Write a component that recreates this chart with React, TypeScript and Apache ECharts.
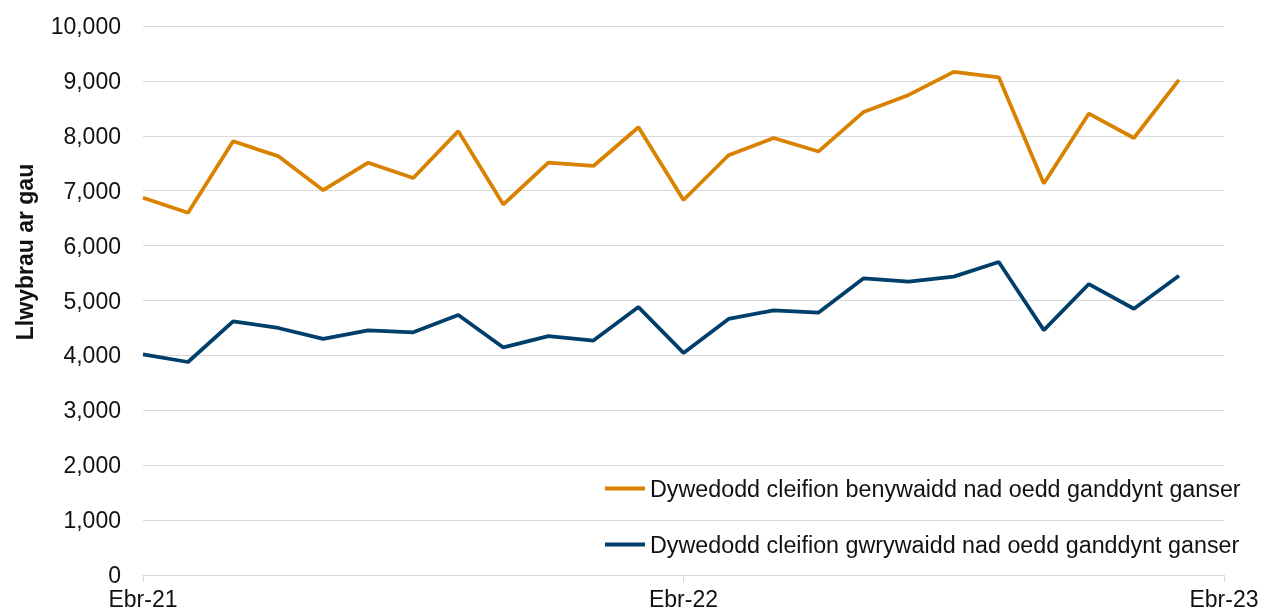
import React, { useEffect, useRef } from "react";
import * as echarts from "echarts";

const months = ["Ebr", "Mai", "Meh", "Gor", "Awst", "Medi", "Hyd", "Tach", "Rhag", "Ion", "Chwef", "Maw"];
const categories: string[] = [];
for (let i = 0; i < 25; i++) {
  const m = months[i % 12];
  const yr = 21 + Math.floor((i + 3) / 12);
  categories.push(`${m}-${yr}`);
}

const femaleName = "Dywedodd cleifion benywaidd nad oedd ganddynt ganser";
const maleName = "Dywedodd cleifion gwrywaidd nad oedd ganddynt ganser";

const femaleValues = [6870, 6600, 7900, 7630, 7010, 7510, 7230, 8085, 6750, 7510, 7450, 8155, 6830, 7645, 7960, 7715, 8435, 8745, 9165, 9065, 7130, 8405, 7960, 9020, null];
const maleValues = [4020, 3880, 4620, 4500, 4300, 4455, 4420, 4735, 4145, 4350, 4270, 4880, 4045, 4665, 4820, 4780, 5405, 5345, 5435, 5700, 4460, 5300, 4850, 5450, null];

const yAxisTitle = "Llwybrau ar gau";

const FONT = "Liberation Sans, Arial, sans-serif";
const ORANGE = "#d98200";
const BLUE = "#003e6c";

export default function App() {
  const ref = useRef<HTMLDivElement>(null);
  useEffect(() => {
    if (!ref.current) return;
    const chart = echarts.init(ref.current, undefined, { renderer: "svg" });
    chart.setOption({
      animation: false,
      textStyle: { fontFamily: FONT },
      grid: { left: 143, right: 41, top: 26, bottom: 35, containLabel: false },
      legend: {
        orient: "vertical",
        left: 605,
        top: 477,
        padding: 0,
        itemGap: 33,
        itemWidth: 40,
        itemHeight: 4,
        icon: "rect",
        textStyle: { fontSize: 23.3, color: "#111", fontFamily: FONT },
        data: [femaleName, maleName],
      },
      graphic: [
        {
          type: "text",
          x: 25,
          y: 252,
          rotation: Math.PI / 2,
          style: {
            text: yAxisTitle,
            fontSize: 23,
            fontWeight: "bold",
            fontFamily: FONT,
            fill: "#111",
            align: "center",
            verticalAlign: "middle",
          },
        },
      ],
      xAxis: {
        type: "category",
        data: categories,
        boundaryGap: false,
        axisLine: { lineStyle: { color: "#d9d9d9", width: 1 } },
        axisTick: { show: true, interval: 11, length: 7, lineStyle: { color: "#d9d9d9" } },
        axisLabel: { interval: 11, fontSize: 23, color: "#111", margin: 12, fontFamily: FONT },
        splitLine: { show: false },
      },
      yAxis: {
        type: "value",
        min: 0,
        max: 10000,
        interval: 1000,
        axisLine: { show: false },
        axisTick: { show: false },
        axisLabel: {
          fontSize: 23,
          color: "#111",
          margin: 22,
          fontFamily: FONT,
          formatter: (v: number) => v.toLocaleString("en-US"),
        },
        splitLine: { lineStyle: { color: "#d9d9d9", width: 1 } },
      },
      series: [
        {
          name: femaleName,
          type: "line",
          data: femaleValues,
          symbol: "none",
          lineStyle: { color: ORANGE, width: 3.75 },
          itemStyle: { color: ORANGE },
        },
        {
          name: maleName,
          type: "line",
          data: maleValues,
          symbol: "none",
          lineStyle: { color: BLUE, width: 3.75 },
          itemStyle: { color: BLUE },
        },
      ],
    });
    return () => chart.dispose();
  }, []);
  return <div ref={ref} style={{ position: "fixed", left: 0, top: 0, width: 1265, height: 610 }} />;
}
